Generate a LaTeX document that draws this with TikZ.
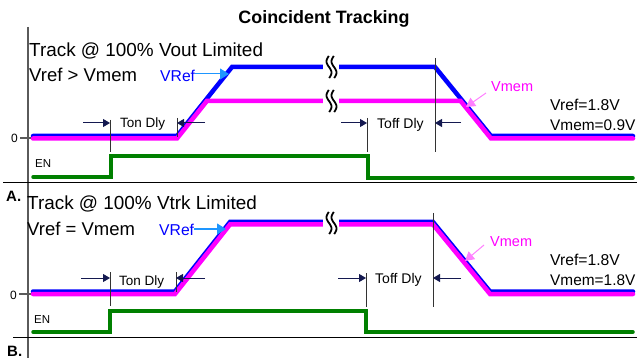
\documentclass[tikz,border=0pt]{standalone}
\usepackage{fontspec}
\setmainfont{Liberation Sans}
\usetikzlibrary{arrows.meta}
\definecolor{vblue}{RGB}{0,0,255}
\definecolor{vmag}{RGB}{255,0,255}
\definecolor{vgreen}{RGB}{0,128,0}
\definecolor{lblue}{RGB}{30,150,255}
\definecolor{lmag}{RGB}{255,128,255}
\definecolor{navyc}{RGB}{20,25,80}
\definecolor{axisgray}{RGB}{90,90,90}
\newcommand\setfs[1]{\fontsize{#1pt}{#1pt}\selectfont}
\newcommand\brksym[3]{%
  \fill[white] (#1-6,#2-#3) rectangle (#1+10,#2+#3);
  \draw[line width=1.8pt] plot[smooth,domain=-11:11,samples=25,variable=\t] ({#1+2.5*sin(\t*16)},{#2+\t});
  \draw[line width=1.8pt] plot[smooth,domain=-11:11,samples=25,variable=\t] ({#1+5+2.5*sin(\t*16)},{#2+\t});
}
\begin{document}
\begin{tikzpicture}[x=1pt,y=-1pt,
  txt/.style={inner sep=0pt,anchor=base west},
  wblue/.style={draw=vblue,line width=4.5pt,line cap=round},
  wmag/.style={draw=vmag,line width=4.5pt,line cap=round},
  wgreen/.style={draw=vgreen,line width=3.5pt,line cap=round},
  tick/.style={draw=black!80,line width=0.9pt},
  dimarrow/.style={draw=navyc,line width=1pt,-{Triangle[length=7pt,width=8pt]}},
  lbarrow/.style={draw=lblue,line width=1pt,-{Triangle[length=9pt,width=11pt]}},
  lmarrow/.style={draw=lmag,line width=1pt,-{Triangle[length=9pt,width=10pt]}},
  sep/.style={draw=black,line width=1pt},
  axisline/.style={draw=axisgray,line width=1.2pt}]
\useasboundingbox (0,0) rectangle (637,358);
\fill[white] (0,0) rectangle (637,358);

% title
\node[inner sep=0pt,anchor=base] (title) at (324,24) {\setfs{17.9}\bfseries Coincident Tracking};

% axis and separators
\draw[axisline] (28,27) -- (28,358);
\draw[sep] (3,183) -- (637,183);
\draw[sep] (13,337) -- (637,337);
\node[txt] (lA) at (6,202) {\setfs{15}\bfseries A.};
\node[txt] (lB) at (7,356) {\setfs{15}\bfseries B.};

% ===== Panel A =====
\node[txt] (tA1) at (29,57) {\setfs{18.9}Track @ 100\% Vout Limited};
\node[txt] (tA2) at (29,82) {\setfs{18.5}Vref > Vmem};
\node[txt,text=vblue] (vrefA) at (160,82) {\setfs{15.7}VRef};
\node[txt] (zeroA) at (11,143) {\setfs{12}0};
\draw[axisline] (20,138) -- (33,138);
\node[txt] (enA) at (35,168) {\setfs{11.5}EN};

\draw[wblue] (33,136) -- (177,136) -- (232,67) -- (435,67) -- (491,136) -- (633,136);
\draw[wmag] (33,138.5) -- (177,138.5) -- (206.9,101) -- (460.6,101) -- (491,138.5) -- (633,138.5);
\brksym{329}{67}{5}
\brksym{329}{101}{5}
\draw[wgreen] (33,177) -- (111,177) -- (111,156) -- (368,156) -- (368,178) -- (633,178);

\draw[tick] (110,120) -- (110,152);
\draw[tick] (177,118) -- (177,137);
\draw[tick] (367,118) -- (367,152);
\draw[tick] (435,58) -- (435,152);

\coordinate (a1s) at (83,123); \coordinate (a1e) at (110,123);
\coordinate (a2s) at (205,123); \coordinate (a2e) at (177,123);
\coordinate (a3s) at (341,123); \coordinate (a3e) at (367,123);
\coordinate (a4s) at (461,123); \coordinate (a4e) at (435,123);
\draw[dimarrow] (a1s) -- (a1e);
\draw[dimarrow] (a2s) -- (a2e);
\draw[dimarrow] (a3s) -- (a3e);
\draw[dimarrow] (a4s) -- (a4e);
\node[txt] (tonA) at (120,128) {\setfs{13.5}Ton Dly};
\node[txt] (toffA) at (377,129) {\setfs{14}Toff Dly};

\coordinate (vbA) at (229,74);
\draw[lbarrow] (vrefA.east |- vbA) -- (vbA);
\node[txt,text=vmag] (vmemA) at (491,92) {\setfs{14.5}Vmem};
\coordinate (vmAs) at (486,93); \coordinate (vmAe) at (466,107);
\draw[lmarrow] (vmAs) -- (vmAe);
\node[txt] (vrA) at (550,111) {\setfs{15.7}Vref=1.8V};
\node[txt] (vmA) at (550,131) {\setfs{15.4}Vmem=0.9V};

% ===== Panel B =====
\node[txt] (tB1) at (27,210) {\setfs{18.9}Track @ 100\% Vtrk Limited};
\node[txt] (tB2) at (27,236) {\setfs{18.5}Vref = Vmem};
\node[txt,text=vblue] (vrefB) at (159,236) {\setfs{15.7}VRef};
\node[txt] (zeroB) at (10,299) {\setfs{12}0};
\draw[axisline] (19,294) -- (33,294);
\node[txt] (enB) at (34,323) {\setfs{11.5}EN};

\draw[wblue] (33,291.5) -- (175,291.5) -- (230,222) -- (433,222) -- (490,291.5) -- (633,291.5);
\draw[wmag] (33,294) -- (175,294) -- (230,224.5) -- (433,224.5) -- (490,294) -- (633,294);
\brksym{329}{223}{6.5}
\draw[wgreen] (33,332) -- (110,332) -- (110,311) -- (366,311) -- (366,332) -- (633,332);

\draw[tick] (110,272) -- (110,306);
\draw[tick] (176,272) -- (176,292);
\draw[tick] (366,273) -- (366,307);
\draw[tick] (433,213) -- (433,307);

\coordinate (b1s) at (81,278); \coordinate (b1e) at (110,278);
\coordinate (b2s) at (205,278); \coordinate (b2e) at (176,278);
\coordinate (b3s) at (338,278); \coordinate (b3e) at (366,278);
\coordinate (b4s) at (461,278); \coordinate (b4e) at (433,278);
\draw[dimarrow] (b1s) -- (b1e);
\draw[dimarrow] (b2s) -- (b2e);
\draw[dimarrow] (b3s) -- (b3e);
\draw[dimarrow] (b4s) -- (b4e);
\node[txt] (tonB) at (119,285) {\setfs{13.5}Ton Dly};
\node[txt] (toffB) at (375,283) {\setfs{14}Toff Dly};

\coordinate (vbB) at (226,229);
\draw[lbarrow] (vrefB.east |- vbB) -- (vbB);
\node[txt,text=vmag] (vmemB) at (490,247) {\setfs{14.5}Vmem};
\coordinate (vmBs) at (484,245); \coordinate (vmBe) at (465,261);
\draw[lmarrow] (vmBs) -- (vmBe);
\node[txt] (vrB) at (550,265) {\setfs{15.7}Vref=1.8V};
\node[txt] (vmB) at (550,285) {\setfs{15.4}Vmem=1.8V};
\end{tikzpicture}
\end{document}
